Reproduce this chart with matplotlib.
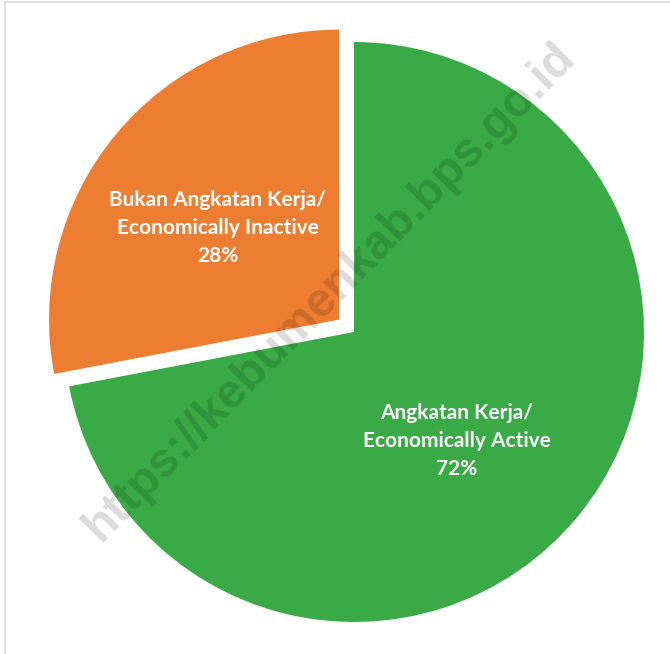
import matplotlib
matplotlib.use("Agg")
import matplotlib.pyplot as plt
from matplotlib.lines import Line2D

categories = ["Angkatan Kerja/\nEconomically Active", "Bukan Angkatan Kerja/\nEconomically Inactive"]
values = [72, 28]
colors = ["#39AA46", "#ED7D31"]
explode = [0, 0.067]
label_pos = [(0.355, -0.375), (-0.47, 0.36)]
watermark = "https://kebumenkab.bps.go.id"

W, H = 670, 654
fig = plt.figure(figsize=(W / 100, H / 100), dpi=100)
fig.patch.set_facecolor("white")

cx, cy, R = 354, 332, 290
L = 1.1
size = 2 * L * R
ax = fig.add_axes([(cx - L * R) / W, (H - cy - L * R) / H, size / W, size / H])
wedges, _ = ax.pie(values, colors=colors, explode=explode, startangle=90,
                   counterclock=False, radius=1,
                   wedgeprops=dict(linewidth=0, antialiased=True))
ax.set_xlim(-L, L)
ax.set_ylim(-L, L)
ax.set_aspect("equal")
ax.axis("off")

total = sum(values)
for cat, v, (x, y) in zip(categories, values, label_pos):
    ax.text(x, y, f"{cat}\n{round(100 * v / total)}%", ha="center", va="center",
            color="white", fontsize=15, fontweight="bold", family=["Lato", "DejaVu Sans"],
            linespacing=1.5, zorder=5)

fig.text(330 / W, 1 - 292 / H, watermark, rotation=45.5, ha="center", va="center",
         fontsize=34.5, fontweight="bold", family=["Liberation Sans", "DejaVu Sans"],
         color="black", alpha=0.14, zorder=10)

# partial frame: top and left
fig.add_artist(Line2D([5 / W, 1], [1 - 2 / H, 1 - 2 / H], transform=fig.transFigure,
                      color="#dcdcdc", linewidth=1.2))
fig.add_artist(Line2D([5 / W, 5 / W], [0, 1 - 2 / H], transform=fig.transFigure,
                      color="#dcdcdc", linewidth=1.2))

fig.savefig("out.png", dpi=100, facecolor="white")
